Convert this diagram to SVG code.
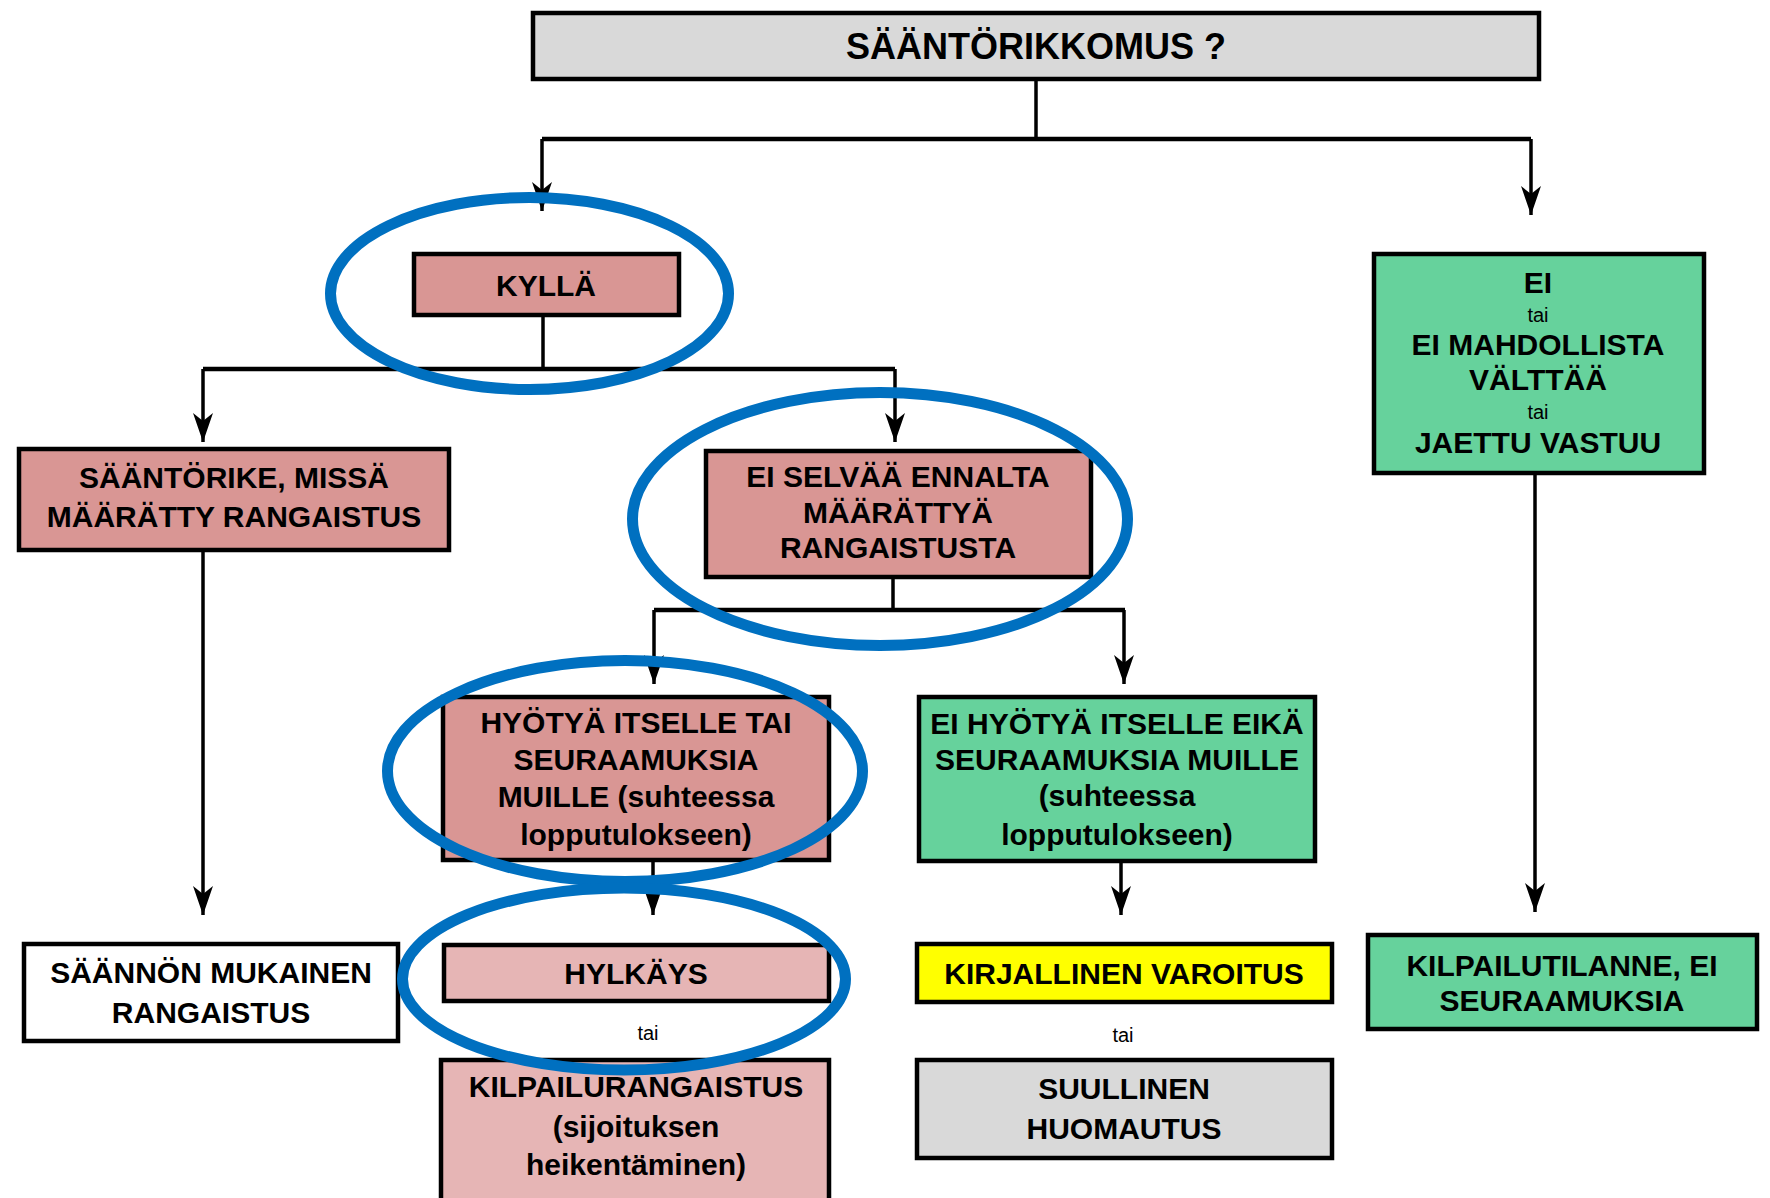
<svg xmlns="http://www.w3.org/2000/svg" width="1770" height="1198" viewBox="0 0 1770 1198">
<style>
.box{stroke:#000;stroke-width:4.5}
.pink{fill:#D99694}
.lpink{fill:#E6B5B5}
.green{fill:#66D29C}
.grey{fill:#D9D9D9}
.white{fill:#FFFFFF}
.yellow{fill:#FFFF00}
.t{font-family:"Liberation Sans",Arial,sans-serif;font-weight:bold;font-size:30px;text-anchor:middle;fill:#000}
.s{font-family:"Liberation Sans",Arial,sans-serif;font-size:20px;text-anchor:middle;fill:#000}
.c{fill:none;stroke:#000;stroke-width:3.5}
.bar{fill:none;stroke:#000;stroke-width:4.5}
.ell{fill:none;stroke:#0070C0;stroke-width:11}
</style>
<defs>
<marker id="ah" viewBox="-30 -11 32 22" refX="0" refY="0" markerWidth="32" markerHeight="22" markerUnits="userSpaceOnUse" orient="auto">
<path d="M0,0 L-29,-10 L-21,0 L-29,10 Z" fill="#000"/>
</marker>
</defs>
<rect width="1770" height="1198" fill="#FFFFFF"/>
<g id="connectors">
<path class="c" d="M1036,79 V139"/>
<path class="bar" d="M542,139 H1531"/>
<path class="c" d="M542,139 V211" marker-end="url(#ah)"/>
<path class="c" d="M1531,139 V215" marker-end="url(#ah)"/>
<path class="c" d="M543,317 V369"/>
<path class="bar" d="M203,369 H895"/>
<path class="c" d="M203,369 V442" marker-end="url(#ah)"/>
<path class="c" d="M895,369 V442" marker-end="url(#ah)"/>
<path class="c" d="M893,579 V610"/>
<path class="bar" d="M654,610 H1125"/>
<path class="c" d="M654,610 V684" marker-end="url(#ah)"/>
<path class="c" d="M1124,610 V684" marker-end="url(#ah)"/>
<path class="c" d="M203,552 V915" marker-end="url(#ah)"/>
<path class="c" d="M653,862 V915" marker-end="url(#ah)"/>
<path class="c" d="M1121,863 V915" marker-end="url(#ah)"/>
<path class="c" d="M1535,475 V912" marker-end="url(#ah)"/>
</g>
<g id="n-title">
<rect class="box grey" x="533" y="13" width="1006" height="66"/>
<text class="t" x="1036" y="59" style="font-size:36px">SÄÄNTÖRIKKOMUS ?</text>
</g>
<g id="n-kylla">
<rect class="box pink" x="414" y="254" width="265" height="61"/>
<text class="t" x="546" y="296">KYLLÄ</text>
</g>
<g id="n-ei">
<rect class="box green" x="1374" y="254" width="330" height="219"/>
<text class="t" x="1538" y="293">EI</text>
<text class="s" x="1538" y="322">tai</text>
<text class="t" x="1538" y="355">EI MAHDOLLISTA</text>
<text class="t" x="1538" y="390">VÄLTTÄÄ</text>
<text class="s" x="1538" y="419">tai</text>
<text class="t" x="1538" y="453">JAETTU VASTUU</text>
</g>
<g id="n-saantorike">
<rect class="box pink" x="19" y="449" width="430" height="101"/>
<text class="t" x="234" y="488">SÄÄNTÖRIKE, MISSÄ</text>
<text class="t" x="234" y="527">MÄÄRÄTTY RANGAISTUS</text>
</g>
<g id="n-eiselvaa">
<rect class="box pink" x="706" y="451" width="385" height="126"/>
<text class="t" x="898" y="487">EI SELVÄÄ ENNALTA</text>
<text class="t" x="898" y="523">MÄÄRÄTTYÄ</text>
<text class="t" x="898" y="558">RANGAISTUSTA</text>
</g>
<g id="n-hyotya">
<rect class="box pink" x="443" y="697" width="386" height="163"/>
<text class="t" x="636" y="733">HYÖTYÄ ITSELLE TAI</text>
<text class="t" x="636" y="770">SEURAAMUKSIA</text>
<text class="t" x="636" y="807">MUILLE (suhteessa</text>
<text class="t" x="636" y="845">lopputulokseen)</text>
</g>
<g id="n-eihyotya">
<rect class="box green" x="919" y="697" width="396" height="164"/>
<text class="t" x="1117" y="734">EI HYÖTYÄ ITSELLE EIKÄ</text>
<text class="t" x="1117" y="770">SEURAAMUKSIA MUILLE</text>
<text class="t" x="1117" y="806">(suhteessa</text>
<text class="t" x="1117" y="845">lopputulokseen)</text>
</g>
<g id="n-saannon">
<rect class="box white" x="24" y="944" width="374" height="97"/>
<text class="t" x="211" y="983">SÄÄNNÖN MUKAINEN</text>
<text class="t" x="211" y="1023">RANGAISTUS</text>
</g>
<g id="n-hylkays">
<rect class="box lpink" x="444" y="945" width="385" height="56"/>
<text class="t" x="636" y="984">HYLKÄYS</text>
</g>
<text class="s" x="648" y="1040">tai</text>
<g id="n-kilpailurangaistus">
<rect class="box lpink" x="441" y="1060" width="388" height="150"/>
<text class="t" x="636" y="1097">KILPAILURANGAISTUS</text>
<text class="t" x="636" y="1137">(sijoituksen</text>
<text class="t" x="636" y="1175">heikentäminen)</text>
</g>
<g id="n-kirjallinen">
<rect class="box yellow" x="917" y="944" width="415" height="58"/>
<text class="t" x="1124" y="984">KIRJALLINEN VAROITUS</text>
</g>
<text class="s" x="1123" y="1042">tai</text>
<g id="n-suullinen">
<rect class="box grey" x="917" y="1060" width="415" height="98"/>
<text class="t" x="1124" y="1099">SUULLINEN</text>
<text class="t" x="1124" y="1139">HUOMAUTUS</text>
</g>
<g id="n-kilpailutilanne">
<rect class="box green" x="1368" y="935" width="389" height="94"/>
<text class="t" x="1562" y="976">KILPAILUTILANNE, EI</text>
<text class="t" x="1562" y="1011">SEURAAMUKSIA</text>
</g>
<g id="highlights">
<ellipse class="ell" cx="529.5" cy="293.5" rx="199" ry="96"/>
<ellipse class="ell" cx="880" cy="519" rx="247.5" ry="126.5"/>
<ellipse class="ell" cx="625" cy="771" rx="237.5" ry="110.5"/>
<ellipse class="ell" cx="624" cy="979" rx="221.5" ry="91"/>
</g>
</svg>
